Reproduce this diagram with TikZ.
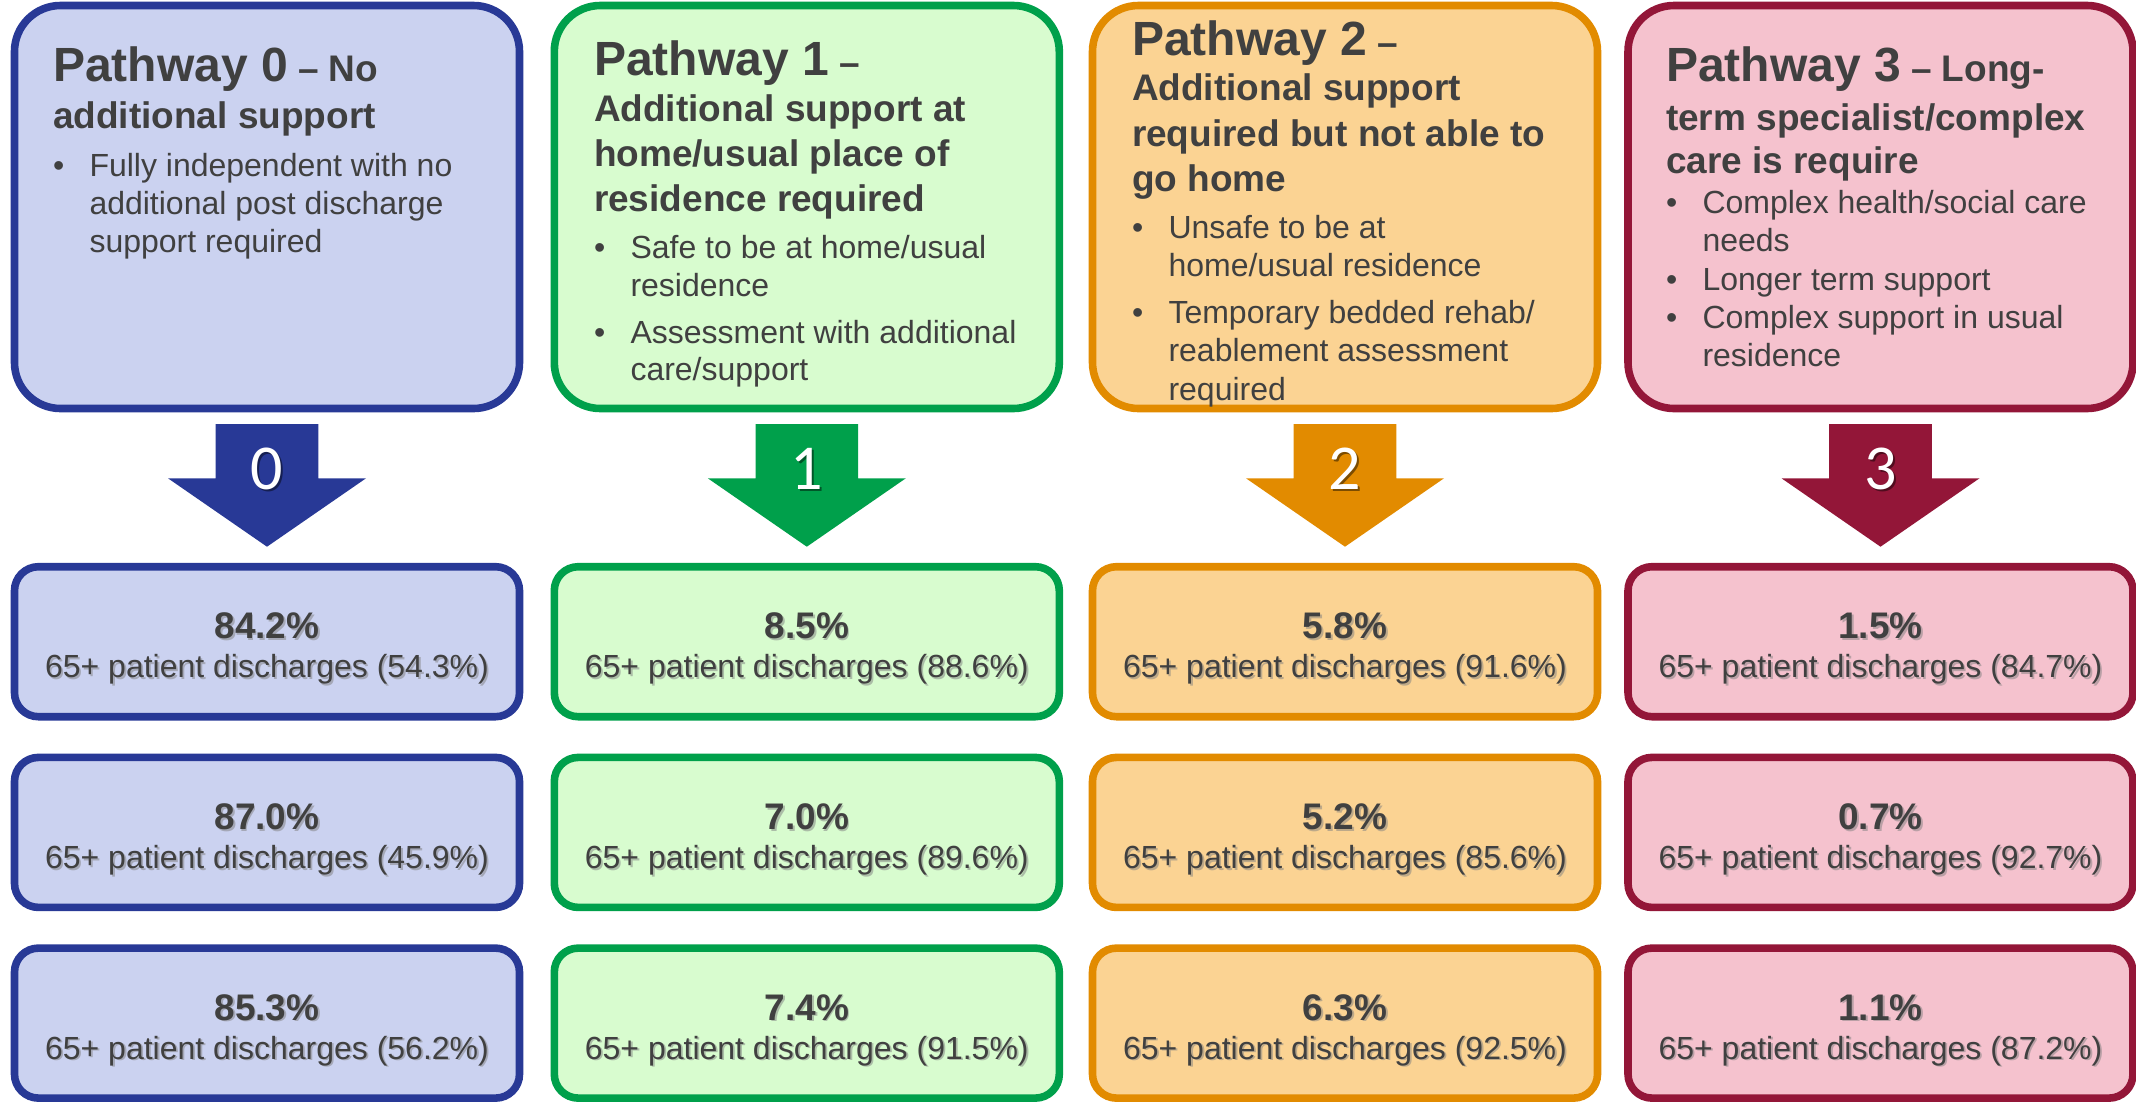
\documentclass[tikz,border=0pt]{standalone}
\usepackage{fontspec}
\setmainfont{Liberation Sans}
\newfontfamily\digitfamily{Carlito}
\usetikzlibrary{calc}

\definecolor{txtgray}{HTML}{404040}
\definecolor{p0line}{HTML}{283996}\definecolor{p0fill}{HTML}{CBD2F0}
\definecolor{p1line}{HTML}{00A04B}\definecolor{p1fill}{HTML}{D8FCCF}
\definecolor{p2line}{HTML}{E28B00}\definecolor{p2fill}{HTML}{FBD393}
\definecolor{p3line}{HTML}{931638}\definecolor{p3fill}{HTML}{F5C2CE}

\newcommand\pwTitle{\fontsize{48}{52}\selectfont\bfseries}
\newcommand\pwSub{\fontsize{37}{42}\selectfont\bfseries}
\newcommand\pwBullet{\fontsize{32}{38}\selectfont}
\newcommand\pwPct{\fontsize{37}{42}\selectfont\bfseries}
\newcommand\pwShare{\fontsize{32}{38}\selectfont}
\newcommand\pwDigit{\digitfamily\fontsize{64}{70}\selectfont}

% one text line, left aligned on its baseline
\newcommand\pwLine[4]{\node[ln] (#1) at (#2,#3) {#4};}
% bullet item: dot plus first line of text
\newcommand\pwItem[4]{%
  \node[ln] (#1d) at (#2,#3) {\pwBullet\textbullet};
  \node[ln] (#1) at ({#2+36.5},#3) {\pwBullet #4};}
% continuation line of a bullet item
\newcommand\pwCont[4]{\node[ln] (#1) at ({#2+36.5},#3) {\pwBullet #4};}

% block arrow below a pathway box, with its number
\newcommand\pwArrow[4]{%
  \begin{scope}[shift={(#2.south)}]
    \fill[#3] (-51.3,15.5) -- (51.3,15.5) -- (51.3,69.8) -- (99,69.8)
      -- (0,138.2) -- (-99,69.8) -- (-51.3,69.8) -- cycle;
    \node[anchor=base, text=black, opacity=0.45] at (1.8,82.6) {\pwDigit #4};
    \node[anchor=base, text=white] (#1) at (0,80.8) {\pwDigit #4};
  \end{scope}}

% statistics box: name, x, y, colour key, share, 65+ share
\newcommand\pwStat[6]{%
  \node[statbox, draw=#4line, fill=#4fill] (#1) at (#2,#3) {};
  \node[anchor=base, shadowtxt] at ({#2+1.8},{#3-1.2}) {\pwPct #5};
  \node[anchor=base] (#1p) at (#2,{#3-3}) {\pwPct #5};
  \node[anchor=base, shadowtxt] at ({#2+1.8},{#3+37.8}) {\pwShare 65+ patient discharges (#6)};
  \node[anchor=base] (#1s) at (#2,{#3+36}) {\pwShare 65+ patient discharges (#6)};}

\begin{document}
\begin{tikzpicture}[x=1pt, y=-1pt,
  every node/.style={inner sep=0pt, outer sep=0pt, text=txtgray},
  topbox/.style={draw, line width=7.6pt, rounded corners=46pt,
    minimum width=505pt, minimum height=403pt},
  statbox/.style={draw, line width=7.6pt, rounded corners=24pt,
    minimum width=505pt, minimum height=150pt},
  ln/.style={anchor=base west},
  shadowtxt/.style={text=black!50, opacity=0.5}]

\useasboundingbox (0,0) rectangle (2136,1104);

% pathway boxes
\node[topbox, draw=p0line, fill=p0fill] (top0) at (267,207) {};
\node[topbox, draw=p1line, fill=p1fill] (top1) at (806.8,207) {};
\node[topbox, draw=p2line, fill=p2fill] (top2) at (1345,207) {};
\node[topbox, draw=p3line, fill=p3fill] (top3) at (1880.5,207) {};

% Pathway 0
\pwLine{t0a}{53}{81.7}{\pwTitle Pathway 0\pwSub\ – No}
\pwLine{t0b}{53}{128.3}{\pwSub additional support}
\pwItem{t0c}{53}{176.7}{Fully independent with no}
\pwCont{t0d}{53}{214.5}{additional post discharge}
\pwCont{t0e}{53}{252.3}{support required}

% Pathway 1
\pwLine{t1a}{594}{75}{\pwTitle Pathway 1\pwSub\ –}
\pwLine{t1b}{594}{121.7}{\pwSub Additional support at}
\pwLine{t1c}{594}{166.5}{\pwSub home/usual place of}
\pwLine{t1d}{594}{211.7}{\pwSub residence required}
\pwItem{t1e}{594}{258.3}{Safe to be at home/usual}
\pwCont{t1f}{594}{296.7}{residence}
\pwItem{t1g}{594}{343.3}{Assessment with additional}
\pwCont{t1h}{594}{380.5}{care/support}

% Pathway 2
\pwLine{t2a}{1132}{55}{\pwTitle Pathway 2\pwSub\ –}
\pwLine{t2b}{1132}{100}{\pwSub Additional support}
\pwLine{t2c}{1132}{146.7}{\pwSub required but not able to}
\pwLine{t2d}{1132}{191.7}{\pwSub go home}
\pwItem{t2e}{1132}{238.3}{Unsafe to be at}
\pwCont{t2f}{1132}{276.7}{home/usual residence}
\pwItem{t2g}{1132}{323.3}{Temporary bedded rehab/}
\pwCont{t2h}{1132}{361.7}{reablement assessment}
\pwCont{t2i}{1132}{400}{required}

% Pathway 3
\pwLine{t3a}{1666}{81.7}{\pwTitle Pathway 3\pwSub\ – Long-}
\pwLine{t3b}{1666}{130}{\pwSub term specialist/complex}
\pwLine{t3c}{1666}{173.3}{\pwSub care is require}
\pwItem{t3d}{1666}{213.3}{Complex health/social care}
\pwCont{t3e}{1666}{251}{needs}
\pwItem{t3f}{1666}{290}{Longer term support}
\pwItem{t3g}{1666}{328.3}{Complex support in usual}
\pwCont{t3h}{1666}{366.7}{residence}

% arrows
\pwArrow{a0}{top0}{p0line}{0}
\pwArrow{a1}{top1}{p1line}{1}
\pwArrow{a2}{top2}{p2line}{2}
\pwArrow{a3}{top3}{p3line}{3}

% statistics rows
\pwStat{s00}{267}{641.7}{p0}{84.2\%}{54.3\%}
\pwStat{s01}{267}{832.4}{p0}{87.0\%}{45.9\%}
\pwStat{s02}{267}{1023.1}{p0}{85.3\%}{56.2\%}

\pwStat{s10}{806.8}{641.7}{p1}{8.5\%}{88.6\%}
\pwStat{s11}{806.8}{832.4}{p1}{7.0\%}{89.6\%}
\pwStat{s12}{806.8}{1023.1}{p1}{7.4\%}{91.5\%}

\pwStat{s20}{1345}{641.7}{p2}{5.8\%}{91.6\%}
\pwStat{s21}{1345}{832.4}{p2}{5.2\%}{85.6\%}
\pwStat{s22}{1345}{1023.1}{p2}{6.3\%}{92.5\%}

\pwStat{s30}{1880.5}{641.7}{p3}{1.5\%}{84.7\%}
\pwStat{s31}{1880.5}{832.4}{p3}{0.7\%}{92.7\%}
\pwStat{s32}{1880.5}{1023.1}{p3}{1.1\%}{87.2\%}

\end{tikzpicture}
\end{document}
